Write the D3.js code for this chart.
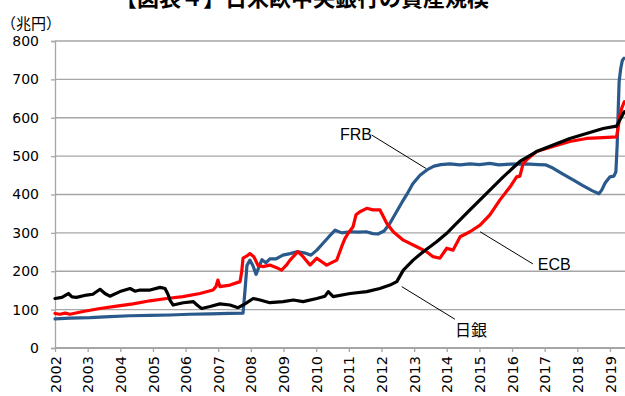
<!DOCTYPE html>
<html><head><meta charset="utf-8">
<script src="https://cdn.jsdelivr.net/npm/d3@7"></script>
<style>
body{margin:0;background:#fff;}
svg{display:block;}
</style></head>
<body>
<svg id="chart" width="625" height="396"></svg>
<script>
const titleText = "【図表４】日米欧中央銀行の資産規模";
const unitText = "（兆円）";
const yearTicks = d3.range(2002, 2020);
const valueTicks = [0,100,200,300,400,500,600,700,800];

// FRB
const frbT = [2002.00,2002.46,2003.07,2003.68,2004.30,2004.91,2005.52,2006.13,2006.75,2007.36,2007.76,2007.82,2007.88,2007.97,2008.06,2008.16,2008.25,2008.34,2008.46,2008.58,2008.77,2008.98,2009.20,2009.41,2009.63,2009.84,2010.02,2010.21,2010.39,2010.58,2010.79,2011.04,2011.28,2011.53,2011.74,2011.89,2012.08,2012.26,2012.44,2012.63,2012.81,2012.96,2013.18,2013.39,2013.61,2013.82,2014.10,2014.40,2014.71,2015.00,2015.32,2015.60,2015.94,2016.25,2016.55,2016.80,2017.04,2017.25,2017.56,2017.87,2018.17,2018.45,2018.66,2018.75,2018.85,2019.00,2019.12,2019.18,2019.22,2019.25,2019.28,2019.33,2019.38,2019.43];
const frbV = [76,78,79,82,84,85,86,88,89,90,91,150,215,229,215,192,212,230,222,232,232,242,246,251,248,242,255,273,290,307,300,303,302,303,298,297,305,325,352,380,405,428,450,464,474,478,480,477,480,478,481,477,479,480,479,478,477,469,453,438,423,410,402,412,430,446,448,459,529,616,694,729,750,755];

// ECB
const ecbT = [2002.00,2002.15,2002.31,2002.46,2002.86,2003.38,2003.89,2004.39,2004.91,2005.42,2005.92,2006.44,2006.84,2006.93,2006.99,2007.05,2007.36,2007.67,2007.72,2007.76,2007.88,2007.97,2008.09,2008.22,2008.37,2008.58,2008.77,2008.94,2009.08,2009.20,2009.32,2009.44,2009.60,2009.81,2010.02,2010.18,2010.32,2010.63,2010.78,2010.88,2010.98,2011.13,2011.22,2011.34,2011.55,2011.74,2011.95,2012.06,2012.16,2012.36,2012.67,2013.08,2013.38,2013.58,2013.79,2014.00,2014.19,2014.41,2014.71,2015.02,2015.32,2015.63,2015.94,2016.14,2016.24,2016.34,2016.52,2016.75,2017.25,2017.77,2018.28,2018.78,2019.20,2019.26,2019.30,2019.36,2019.44];
const ecbV = [90,88,91,88,95,103,109,115,123,129,134,142,151,160,177,160,164,173,200,234,240,246,238,215,212,216,210,203,215,229,240,251,238,216,234,224,216,229,264,285,299,316,347,355,364,360,360,342,325,303,281,264,251,238,234,260,255,290,303,320,347,386,420,446,448,481,496,512,525,538,546,548,550,580,605,625,642];

// 日銀
const bojT = [2002.00,2002.21,2002.41,2002.52,2002.66,2002.97,2003.16,2003.38,2003.53,2003.68,2003.99,2004.30,2004.45,2004.60,2004.91,2005.22,2005.37,2005.46,2005.52,2005.62,2005.93,2006.24,2006.35,2006.49,2006.75,2007.05,2007.36,2007.61,2007.82,2008.07,2008.28,2008.58,2008.99,2009.30,2009.60,2010.02,2010.27,2010.37,2010.52,2011.04,2011.55,2011.95,2012.26,2012.47,2012.67,2012.97,2013.28,2013.69,2014.00,2014.20,2014.71,2015.22,2015.73,2016.24,2016.75,2017.26,2017.77,2018.28,2018.79,2019.20,2019.30,2019.44];
const bojV = [129,132,142,133,132,138,140,153,142,135,147,155,148,151,151,158,155,140,125,112,118,121,112,103,108,115,112,105,115,129,125,118,121,125,121,129,135,147,134,142,147,155,164,173,203,229,251,277,299,316,360,403,446,486,512,529,546,559,572,578,594,616];

const seriesNames = ["FRB","ECB","日銀"];
const seriesColors = ["#2a5a8c","#ff0000","#000000"];

// annotations: label, text anchor (t,v), leader from (t,v) to (t,v)
const annLabels = ["FRB","ECB","日銀"];
const annTextT = [2010.73, 2016.79, 2014.25];
const annTextV = [542, 203, 31];
const annFromT = [2011.70, 2016.64, 2014.25];
const annFromV = [555, 219, 75];
const annToT = [2013.36, 2015.02, 2012.62];
const annToV = [468, 303, 160];

const svg = d3.select("#chart");
const W = 625;
const x = d3.scaleLinear().domain([2002, 2019]).range([55, 610]);
const y = d3.scaleLinear().domain([0, 800]).range([348, 41]);
const gridColor = "#a6a6a6";

// title
svg.append("text").attr("x", 302).attr("y", 6).attr("text-anchor","middle")
  .attr("font-family","'Noto Sans CJK JP'").attr("font-weight","bold").attr("font-size",22)
  .text(titleText);
svg.append("text").attr("x", 1).attr("y", 29)
  .attr("font-family","'Noto Sans CJK JP'").attr("font-size",15).text(unitText);

// gridlines
svg.append("g").selectAll("line").data(valueTicks.filter(v => v > 0)).join("line")
  .attr("x1", x(2002)).attr("x2", W).attr("y1", d => y(d)).attr("y2", d => y(d))
  .attr("stroke", gridColor).attr("stroke-width", 1.3);

// y axis
const yAxis = svg.append("g").attr("transform", `translate(${x(2002)},0)`)
  .call(d3.axisLeft(y).tickValues(valueTicks).tickSize(4).tickPadding(12).tickFormat(d3.format("d")));
yAxis.select(".domain").attr("stroke", gridColor).attr("stroke-width", 1.3);
yAxis.selectAll(".tick line").attr("stroke", gridColor).attr("stroke-width", 1.3);
yAxis.selectAll(".tick text").attr("font-family","'DejaVu Sans'").attr("font-size",14).attr("fill","#000");

// x axis
const xAxis = svg.append("g").attr("transform", `translate(0,${y(0)})`)
  .call(d3.axisBottom(x).tickValues(yearTicks).tickSize(4).tickFormat(d3.format("d")));
xAxis.select(".domain").remove();
xAxis.append("line").attr("x1", x(2002)).attr("x2", W).attr("y1", 0).attr("y2", 0)
  .attr("stroke", gridColor).attr("stroke-width", 2);
xAxis.selectAll(".tick line").attr("stroke", gridColor).attr("stroke-width", 1.3);
xAxis.selectAll(".tick text").attr("font-family","'DejaVu Sans'").attr("font-size",14.5).attr("fill","#000")
  .attr("transform","rotate(-90)").attr("text-anchor","end").attr("dy","0.35em")
  .attr("y", 0).attr("x", -8);

// lines
const line = d3.line().x(d => x(d[0])).y(d => y(d[1]));
const allSeries = [
  d3.zip(frbT, frbV),
  d3.zip(ecbT, ecbV),
  d3.zip(bojT, bojV)
];
// draw order: FRB, ECB, 日銀 on top
allSeries.forEach((s, i) => {
  svg.append("path").datum(s).attr("d", line).attr("fill","none")
    .attr("stroke", seriesColors[i]).attr("stroke-width", 3.2)
    .attr("stroke-linejoin","round").attr("stroke-linecap","round")
    .attr("class","series").attr("data-name", seriesNames[i]);
});

// annotations
annLabels.forEach((lab, i) => {
  svg.append("line").attr("x1", x(annFromT[i])).attr("y1", y(annFromV[i]))
    .attr("x2", x(annToT[i])).attr("y2", y(annToV[i])).attr("stroke","#000").attr("stroke-width",1);
  svg.append("text").attr("x", x(annTextT[i])).attr("y", y(annTextV[i]))
    .attr("font-family", lab === "日銀" ? "'Noto Sans CJK JP'" : "'Liberation Sans'")
    .attr("font-size", 16).attr("fill","#000").text(lab);
});
</script>
</body></html>
